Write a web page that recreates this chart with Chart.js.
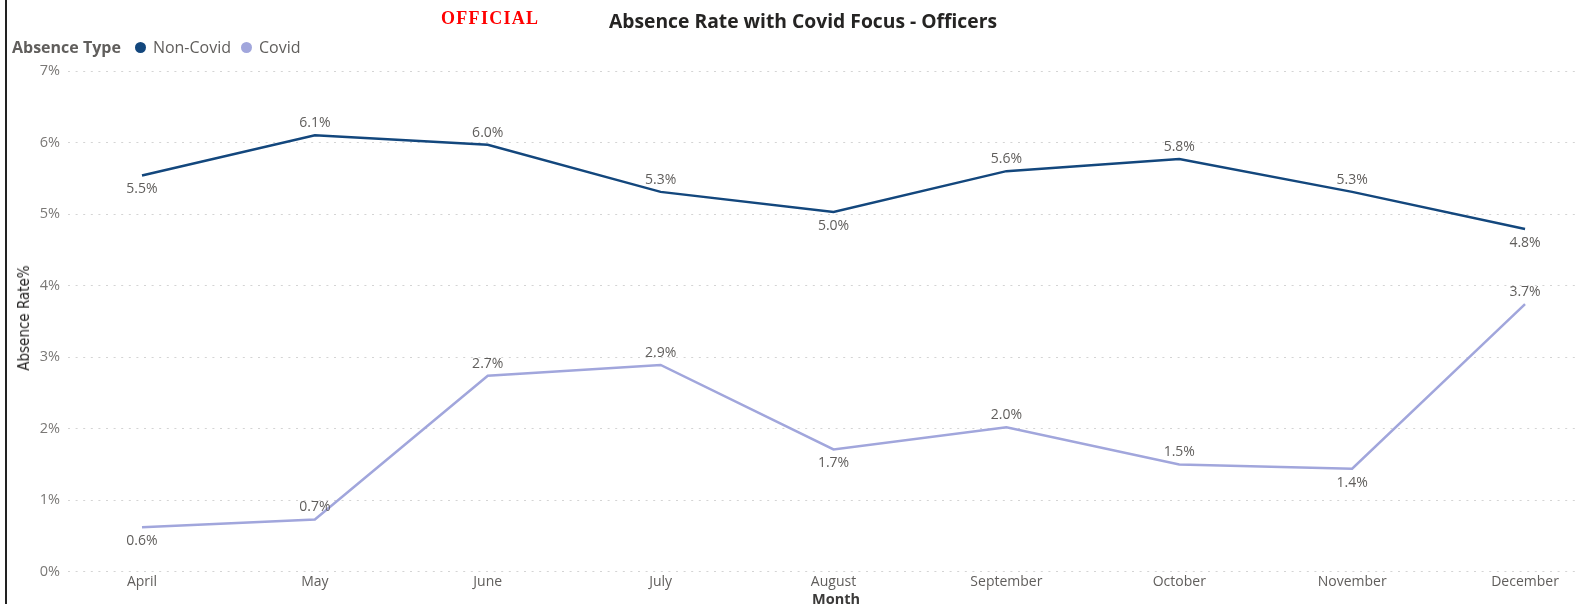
<!DOCTYPE html>
<html>
<head>
<meta charset="utf-8">
<script src="https://cdn.jsdelivr.net/npm/chart.js@4/dist/chart.umd.min.js"></script>
<style>
    body { margin: 0; background: #fff; }
    #wrap { position: relative; width: 1577px; height: 604px; overflow: hidden; font-family: 'Segoe UI', 'Open Sans', sans-serif; }
    #wrap canvas { position: absolute; left: 0; top: 0; }
    .edge { position: absolute; left: 5px; top: 0; width: 2px; height: 604px; background: #222; }
    .official { position: absolute; left: 441px; top: 8px; font: bold 18px 'Liberation Serif', 'Times New Roman', serif; color: #ff0000; letter-spacing: 1.3px; }
    .title { position: absolute; left: 0; width: 1606px; top: 7px; text-align: center; font-weight: bold; font-size: 19.3px; color: #252423; }
    .legend { position: absolute; left: 12px; top: 36px; font-size: 16px; color: #605e5c; white-space: nowrap; }
    .legend b { color: #605e5c; margin-right: 14px; }
    .legend .dot { display: inline-block; width: 11px; height: 11px; border-radius: 50%; margin-right: 7px; vertical-align: 0px; }
    .legend .name { margin-right: 10px; }
    .ytitle { position: absolute; left: 24px; top: 318px; transform: translate(-50%, -50%) rotate(-90deg); font: 15px 'Liberation Sans Narrow', 'DejaVu Sans Condensed', sans-serif; color: #252423; white-space: nowrap; }
    .xtitle { position: absolute; left: 836px; top: 589px; transform: translateX(-50%); font-weight: bold; font-size: 14.5px; color: #3b3a39; }
</style>
</head>
<body>
<div id="wrap">
    <canvas id="absenceChart" width="1577" height="604"></canvas>
    <div class="edge"></div>
    <div class="official">OFFICIAL</div>
    <div class="title">Absence Rate with Covid Focus - Officers</div>
    <div class="legend" id="legend"></div>
    <div class="ytitle">Absence Rate%</div>
    <div class="xtitle">Month</div>
</div>
<script>
const months = ['April', 'May', 'June', 'July', 'August', 'September', 'October', 'November', 'December'];
const nonCovidRate = [5.54, 6.10, 5.97, 5.31, 5.03, 5.60, 5.77, 5.31, 4.79];
const covidRate = [0.62, 0.73, 2.74, 2.89, 1.71, 2.02, 1.50, 1.44, 3.74];
const yTicks = [0, 1, 2, 3, 4, 5, 6, 7];

const seriesNames = ['Non-Covid', 'Covid'];
const seriesColors = ['#13477d', '#a1a6dc'];

document.addEventListener('DOMContentLoaded', () => {
    const legendEl = document.getElementById('legend');
    legendEl.innerHTML = '<b>Absence Type</b>' + seriesNames.map((name, i) =>
        `<span class="dot" style="background:${seriesColors[i]}"></span><span class="name">${name}</span>`
    ).join('');

    // value labels: below a point that dips under its neighbours, above otherwise
    const pointLabels = {
        id: 'pointLabels',
        afterDatasetsDraw(chart) {
            const ctx = chart.ctx;
            ctx.save();
            ctx.font = '14px "Segoe UI", "Open Sans", sans-serif';
            ctx.fillStyle = '#605e5c';
            ctx.textAlign = 'center';
            ctx.textBaseline = 'middle';
            chart.data.datasets.forEach((ds, di) => {
                const meta = chart.getDatasetMeta(di);
                const vals = ds.data.map((d) => d.y);
                meta.data.forEach((pt, i) => {
                    const v = vals[i];
                    const prev = i > 0 ? vals[i - 1] : Infinity;
                    const next = i < vals.length - 1 ? vals[i + 1] : Infinity;
                    const below = v < prev && v < next;
                    ctx.fillText(v.toFixed(1) + '%', pt.x, below ? pt.y + 14 : pt.y - 12);
                });
            });
            ctx.restore();
        },
    };

    const toPoints = (arr) => arr.map((y, i) => ({ x: i, y }));

    new Chart(document.getElementById('absenceChart'), {
        type: 'line',
        data: {
            datasets: [
                { label: seriesNames[0], data: toPoints(nonCovidRate), borderColor: seriesColors[0], borderWidth: 2.5, pointRadius: 0, tension: 0 },
                { label: seriesNames[1], data: toPoints(covidRate), borderColor: seriesColors[1], borderWidth: 2.5, pointRadius: 0, tension: 0 },
            ],
        },
        options: {
            responsive: false,
            animation: false,
            events: [],
            layout: { padding: { top: 71, right: 2, left: 0, bottom: 0 } },
            plugins: { legend: { display: false }, tooltip: { enabled: false } },
            scales: {
                x: {
                    type: 'linear',
                    min: -0.428,
                    max: 8.289,
                    grid: { display: false, drawTicks: false },
                    border: { display: false },
                    afterBuildTicks: (scale) => { scale.ticks = months.map((_, i) => ({ value: i })); },
                    ticks: {
                        autoSkip: false,
                        maxRotation: 0,
                        padding: 2,
                        color: '#605e5c',
                        font: { family: '"Segoe UI", "Open Sans", sans-serif', size: 14 },
                        callback: (v) => months[v],
                    },
                    afterFit: (scale) => { scale.height = 32.3; },
                },
                y: {
                    min: 0,
                    max: 7,
                    afterBuildTicks: (scale) => { scale.ticks = yTicks.map((v) => ({ value: v })); },
                    grid: { color: '#d4d4d4', lineWidth: 1, drawTicks: false },
                    border: { display: false, dash: [2, 5.6] },
                    ticks: {
                        padding: 8,
                        color: '#7a7876',
                        font: { family: '"Segoe UI", "Open Sans", sans-serif', size: 14.5 },
                        callback: (v) => v + '%',
                    },
                    afterFit: (scale) => { scale.width = 68; },
                },
            },
        },
        plugins: [pointLabels],
    });
});
</script>
</body>
</html>
